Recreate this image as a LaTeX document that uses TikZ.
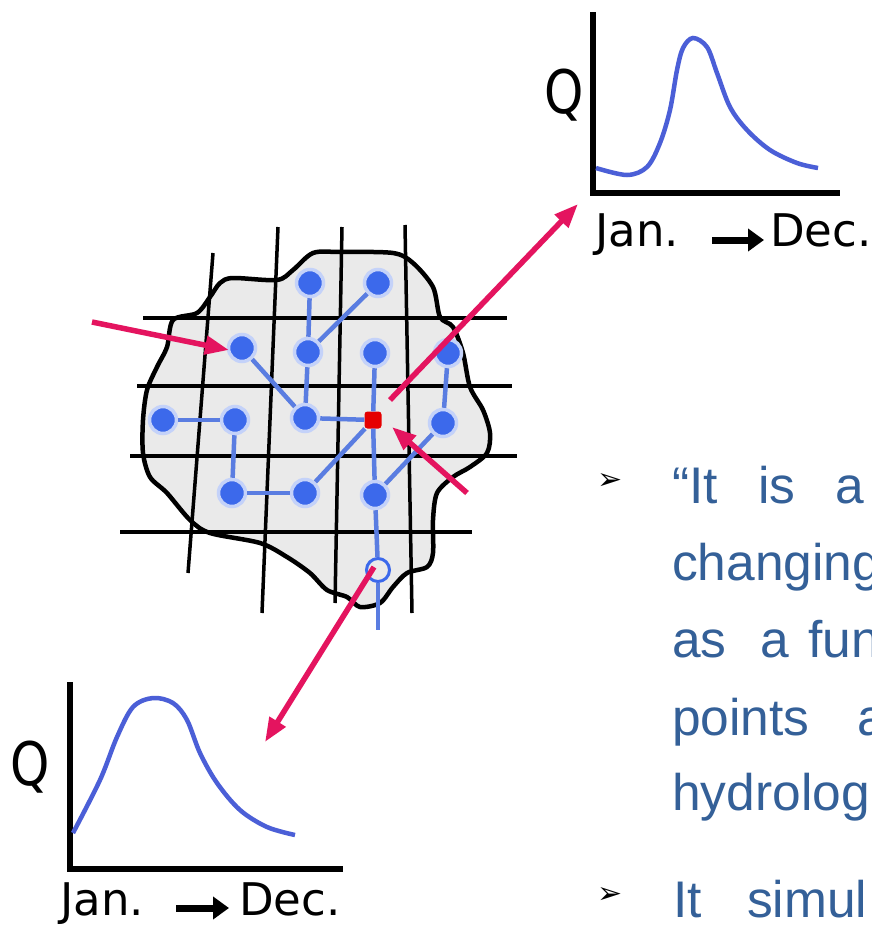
\documentclass[tikz,border=0pt]{standalone}
\usepackage{fontspec}
\setmainfont{Liberation Sans}
\newfontfamily\dejavu{DejaVu Sans}
\usetikzlibrary{arrows.meta}
\definecolor{nodeblue}{RGB}{60,105,235}
\definecolor{edgeblue}{RGB}{90,125,225}
\definecolor{curveblue}{RGB}{75,95,215}
\definecolor{arrowpink}{RGB}{228,20,95}
\definecolor{textblue}{RGB}{52,96,152}
\definecolor{blobgray}{RGB}{234,234,234}
\begin{document}
\begin{tikzpicture}[x=1pt,y=-1pt,
  bnode/.style={circle,fill=nodeblue,draw=nodeblue!30,line width=3.5pt,minimum size=27pt,inner sep=0pt},
  rnode/.style={rectangle,rounded corners=3pt,fill=red!90!black,minimum size=17pt,inner sep=0pt},
  hnode/.style={circle,draw=nodeblue,line width=3pt,minimum size=23pt,inner sep=0pt},
  edge/.style={draw=edgeblue,line width=4.5pt},
  grid/.style={draw=black,line width=3.5pt},
  pinkarrow/.style={draw=arrowpink,line width=5.5pt,-{Triangle[length=24pt,width=18pt]}},
  axis/.style={draw=black,line width=5.5pt},
  curve/.style={draw=curveblue,line width=4.5pt},
  lbl/.style={font=\dejavu\fontsize{45}{45}\selectfont,inner sep=0pt},
  qlbl/.style={font=\dejavu\fontsize{50}{50}\selectfont,inner sep=0pt},
  lblarrow/.style={draw=black,line width=7pt,-{Triangle[length=16pt,width=22pt]}},
  txt/.style={font=\fontsize{51.5}{51.5}\selectfont,text=textblue,inner sep=0pt,anchor=base west},
  bullet/.style={font=\dejavu\fontsize{30}{30}\selectfont,inner sep=0pt}
]
\clip (0,0) rectangle (872,926);
\fill[white] (0,0) rectangle (872,926);

% catchment fill
\fill[blobgray] plot[smooth cycle,tension=0.5] coordinates {
 (313,253) (340,252) (393,253) (413,263) (433,287) (440,317) (453,327) (463,353)
 (470,387) (483,410) (490,433) (487,453) (470,467) (453,477) (437,493) (433,520)
 (433,553) (427,567) (407,573) (393,587) (380,603) (360,607) (347,597) (327,590)
 (310,573) (287,557) (260,543) (210,533) (190,520) (167,493) (150,477) (143,453)
 (143,420) (147,390) (157,367) (167,347) (173,320) (197,313) (210,297) (220,283)
 (233,278) (277,280) (293,270)};

% grid
\draw[grid] (143,318) -- (507,318);
\draw[grid] (137,386) -- (512,386);
\draw[grid] (130,456) -- (517,456);
\draw[grid] (120,532) -- (472,532);
\draw[grid] (213,253) -- (188,573);
\draw[grid] (278,227) -- (262,613);
\draw[grid] (342,227) -- (335,603);
\draw[grid] (405,225) -- (412,613);

% catchment outline
\draw[line width=4.5pt] plot[smooth cycle,tension=0.5] coordinates {
 (313,253) (340,252) (393,253) (413,263) (433,287) (440,317) (453,327) (463,353)
 (470,387) (483,410) (490,433) (487,453) (470,467) (453,477) (437,493) (433,520)
 (433,553) (427,567) (407,573) (393,587) (380,603) (360,607) (347,597) (327,590)
 (310,573) (287,557) (260,543) (210,533) (190,520) (167,493) (150,477) (143,453)
 (143,420) (147,390) (157,367) (167,347) (173,320) (197,313) (210,297) (220,283)
 (233,278) (277,280) (293,270)};

% network nodes
\node[bnode] (n1) at (310,283) {};
\node[bnode] (n2) at (378,283) {};
\node[bnode] (n3) at (242,348) {};
\node[bnode] (n4) at (308,352) {};
\node[bnode] (n5) at (375,353) {};
\node[bnode] (n6) at (448,353) {};
\node[bnode] (n7) at (163,420) {};
\node[bnode] (n8) at (235,420) {};
\node[bnode] (n9) at (305,418) {};
\node[bnode] (n10) at (443,423) {};
\node[bnode] (n11) at (232,493) {};
\node[bnode] (n12) at (305,493) {};
\node[bnode] (n13) at (375,495) {};
\node[rnode] (r) at (373,420) {};
\node[hnode] (h) at (378,570) {};
\coordinate (hb) at (378,630);

% network edges
\draw[edge] (n1) -- (n4);
\draw[edge] (n2) -- (n4);
\draw[edge] (n4) -- (n9);
\draw[edge] (n3) -- (n9);
\draw[edge] (n9) -- (r);
\draw[edge] (n5) -- (r);
\draw[edge] (n7) -- (n8);
\draw[edge] (n8) -- (n11);
\draw[edge] (n11) -- (n12);
\draw[edge] (n12) -- (r);
\draw[edge] (r) -- (n13);
\draw[edge] (n13) -- (h);
\draw[edge] (h) -- (hb);
\draw[edge] (n6) -- (n10);
\draw[edge] (n10) -- (n13);

% pink arrows
\coordinate (a1s) at (92,322);
\coordinate (a1e) at (229,350);
\coordinate (a2s) at (390,400);
\coordinate (a2e) at (578,204);
\coordinate (a3s) at (467,493);
\coordinate (a3e) at (392,427);
\coordinate (a4s) at (374,567);
\coordinate (a4e) at (265,742);
\draw[pinkarrow] (a1s) -- (a1e);
\draw[pinkarrow] (a2s) -- (a2e);
\draw[pinkarrow] (a3s) -- (a3e);
\draw[pinkarrow] (a4s) -- (a4e);

% top-right hydrograph
\coordinate (t0) at (593,193);
\coordinate (ty) at (593,12);
\coordinate (tx) at (840,193);
\draw[axis] (ty) -- (t0) -- (tx);
\draw[curve] plot[smooth,tension=0.55] coordinates {
 (596,168) (627,175) (647,167) (660,143) (670,110) (677,70) (683,48) (693,38)
 (707,47) (717,73) (730,107) (747,130) (770,150) (797,163) (818,168)};
\node[qlbl,anchor=base] (q1) at (564,113) {\scalebox{1}[1.2]{Q}};
\node[lbl,anchor=base west] (jan1) at (595,246) {Jan.};
\node[lbl,anchor=base west] (dec1) at (770,246) {Dec.};
\coordinate (la1s) at (712,240);
\coordinate (la1e) at (764,240);
\draw[lblarrow] (la1s) -- (la1e);

% bottom-left hydrograph
\coordinate (b0) at (70,869);
\coordinate (by) at (70,682);
\coordinate (bx) at (343,869);
\draw[axis] (by) -- (b0) -- (bx);
\draw[curve] plot[smooth,tension=0.55] coordinates {
 (73,833) (100,780) (117,737) (133,707) (153,698) (173,703) (187,720) (200,753)
 (217,783) (240,810) (267,827) (295,835)};
\node[qlbl,anchor=base] (q2) at (30,785) {\scalebox{1}[1.2]{Q}};
\node[lbl,anchor=base west] (jan2) at (60,915) {Jan.};
\node[lbl,anchor=base west] (dec2) at (239,915) {Dec.};
\coordinate (la2s) at (176,908);
\coordinate (la2e) at (229,908);
\draw[lblarrow] (la2s) -- (la2e);

% right-hand text (cut off at the edge)
\node[bullet] (b1) at (610,481) {➢};
\node[txt] (w11) at (672,503) {“It};
\node[txt] (w12) at (758,503) {is};
\node[txt] (w13) at (835,503) {a};
\node[txt] (w21) at (672,580) {changing};
\node[txt] (w31) at (672,657) {as};
\node[txt] (w32) at (760,657) {a};
\node[txt] (w33) at (808,657) {fun};
\node[txt] (w41) at (672,735) {points};
\node[txt] (w42) at (857,735) {a};
\node[txt] (w51) at (672,810) {hydrolog};
\node[bullet] (b2) at (610,895) {➢};
\node[txt] (w61) at (673,917) {It};
\node[txt] (w62) at (747,917) {simul};
\end{tikzpicture}
\end{document}
